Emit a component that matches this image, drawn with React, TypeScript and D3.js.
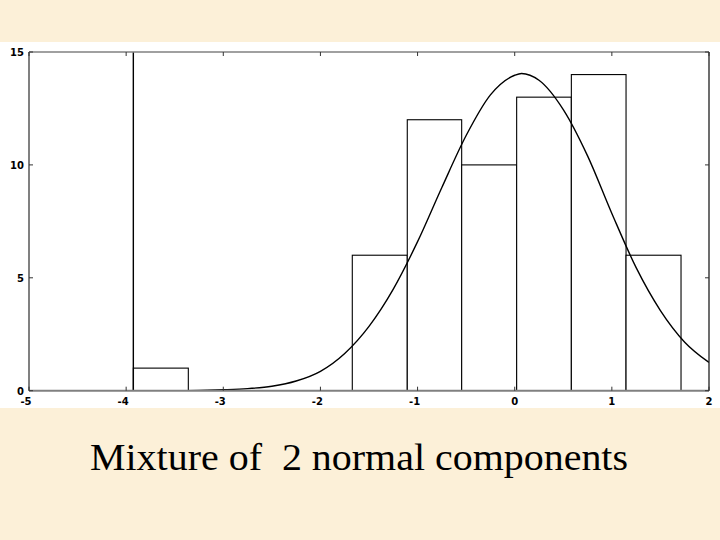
import React from "react";
import * as d3 from "d3";

const binEdges = [-3.926, -3.36, -2.797, -2.232, -1.672, -1.106, -0.546, 0.02, 0.583, 1.146, 1.712];
const binCounts = [1, 0, 0, 0, 6, 12, 10, 13, 14, 6];

const curveX = [-3.5, -3.25, -3.0, -2.75, -2.5, -2.25, -2.0, -1.75, -1.5, -1.25, -1.0, -0.75, -0.5, -0.25, 0.0, 0.07, 0.25, 0.5, 0.75, 1.0, 1.25, 1.5, 1.75, 2.0];
const curveY = [0.0, 0.01, 0.04, 0.09, 0.2, 0.43, 0.86, 1.65, 2.85, 4.5, 6.6, 9.0, 11.3, 13.1, 13.97, 14.05, 13.75, 12.45, 10.4, 7.85, 5.45, 3.55, 2.15, 1.25];
const spikeX = -3.926;

const xTicks = [-5, -4, -3, -2, -1, 0, 1, 2];
const yTicks = [0, 5, 10, 15];
const title = "Mixture of  2 normal components";

export default function App() {
  const W = 720, H = 540;
  const x = d3.scaleLinear().domain([-5, 2]).range([29, 709]);
  const y = d3.scaleLinear().domain([0, 15]).range([390.7, 52]);
  const line = d3.line<number>().x((_, i) => x(curveX[i])).y((d) => y(d)).curve(d3.curveMonotoneX);
  const curvePath = line(curveY) || "";
  const bars = binCounts.map((c, i) => ({ x0: binEdges[i], x1: binEdges[i + 1], c }));
  const font = "'DejaVu Sans', Arial, sans-serif";
  return (
    <div style={{ position: "absolute", left: 0, top: 0 }}>
      <svg width={W} height={H} style={{ display: "block" }}>
        <rect x={0} y={0} width={W} height={H} fill="#FCF0D8" />
        <rect x={0} y={42} width={W} height={366} fill="#ffffff" />
        <defs>
          <clipPath id="plot">
            <rect x={x(-5)} y={y(15)} width={x(2) - x(-5)} height={y(0) - y(15)} />
          </clipPath>
        </defs>
        <g clipPath="url(#plot)">
          {bars.filter((b) => b.c > 0).map((b, i) => (
            <rect key={i} x={x(b.x0)} y={y(b.c)} width={x(b.x1) - x(b.x0)} height={y(0) - y(b.c)}
              fill="#ffffff" stroke="#000" strokeWidth={1.1} />
          ))}
          <path d={curvePath} fill="none" stroke="#000" strokeWidth={1.4} />
          <line x1={x(spikeX)} x2={x(spikeX)} y1={y(0)} y2={y(15)} stroke="#000" strokeWidth={1.4} />
        </g>
        <line x1={x(-5)} x2={x(2)} y1={y(15)} y2={y(15)} stroke="#808080" strokeWidth={1.5} />
        <line x1={x(-5)} x2={x(2)} y1={y(0)} y2={y(0)} stroke="#808080" strokeWidth={2} />
        <line x1={x(-5)} x2={x(-5)} y1={y(0)} y2={y(15)} stroke="#808080" strokeWidth={2} />
        <line x1={x(2)} x2={x(2)} y1={y(0)} y2={y(15)} stroke="#202020" strokeWidth={1.3} />
        {xTicks.map((t) => (
          <g key={"xt" + t}>
            <line x1={x(t)} x2={x(t)} y1={y(0)} y2={y(0) - 4} stroke="#333" strokeWidth={1} />
            <line x1={x(t)} x2={x(t)} y1={y(15)} y2={y(15) + 4} stroke="#333" strokeWidth={1} />
            <text x={x(t) - (t < 0 ? 3 : 0)} y={y(0) + 14} fontFamily={font} fontSize={10} fontWeight="bold" textAnchor="middle" fill="#000">{t}</text>
          </g>
        ))}
        {yTicks.map((t) => (
          <g key={"yt" + t}>
            <line x1={x(-5)} x2={x(-5) + 4} y1={y(t)} y2={y(t)} stroke="#333" strokeWidth={1} />
            <line x1={x(2)} x2={x(2) - 4} y1={y(t)} y2={y(t)} stroke="#333" strokeWidth={1} />
            <text x={24} y={y(t) + 4} fontFamily={font} fontSize={10} fontWeight="bold" textAnchor="end" fill="#000">{t}</text>
          </g>
        ))}
        <text x={90} y={470} fontFamily="'Liberation Serif', 'Times New Roman', serif" fontSize={38}
          textLength={538} lengthAdjust="spacingAndGlyphs" style={{ whiteSpace: "pre" }} fill="#000">{title}</text>
      </svg>
    </div>
  );
}
